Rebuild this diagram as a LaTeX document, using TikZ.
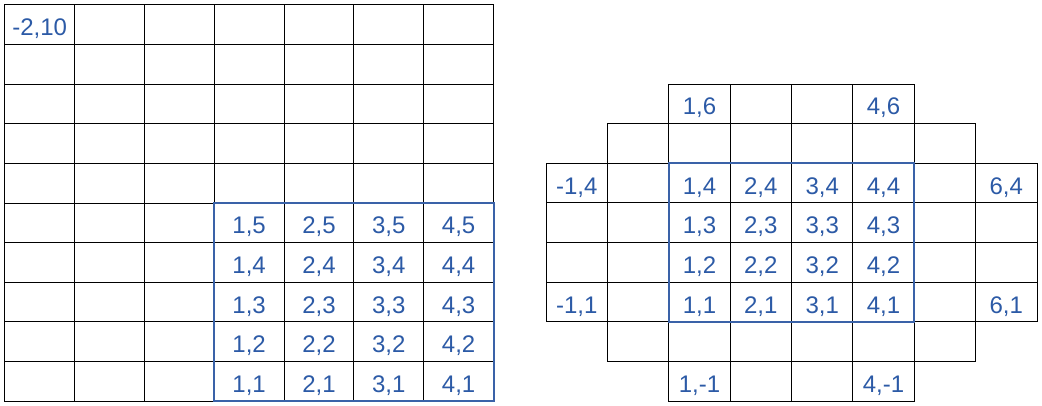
\documentclass[tikz,border=0pt]{standalone}
\usepackage{fontspec}
\setmainfont{Liberation Sans}
\definecolor{lblue}{RGB}{44,90,166}
\definecolor{bblue}{RGB}{58,98,168}
\begin{document}
\begin{tikzpicture}[x=1pt,y=-1pt,
  cell/.style={draw=black,line width=1pt,minimum width=#1,minimum height=39.66pt,inner sep=0pt,outer sep=0pt},
  lab/.style={text=lblue,font=\fontsize{24}{28}\selectfont,inner sep=0pt,text height=22pt,text depth=0pt,anchor=center},
  bluebox/.style={draw=bblue,line width=2pt}]
\useasboundingbox (0,0) rectangle (1042,405);
% left grid
\foreach \i in {0,...,6}{
  \foreach \j in {0,...,9}{
    \node[cell=69.83pt] (L-\i-\j) at ({4.7+69.83*(\i+0.5)},{4.7+39.66*(\j+0.5)}) {};
  }
}
\draw[bluebox] (L-3-5.north west) rectangle (L-6-9.south east);
\node[lab] (tL-0-0) at (L-0-0.center) {-2,10};
\foreach \i in {3,...,6}{
  \foreach \j in {5,...,9}{
    \pgfmathtruncatemacro\a{\i-2}
    \pgfmathtruncatemacro\b{10-\j}
    \node[lab] (tL-\i-\j) at (L-\i-\j.center) {\a,\b};
  }
}
% right grid
\foreach \j/\lo/\hi in {0/2/5,1/1/6,2/0/7,3/0/7,4/0/7,5/0/7,6/1/6,7/2/5}{
  \foreach \i in {\lo,...,\hi}{
    \node[cell=61.375pt] (R-\i-\j) at ({546+61.375*(\i+0.5)},{84+39.66*(\j+0.5)}) {};
  }
}
\draw[bluebox] (R-2-2.north west) rectangle (R-5-5.south east);
\foreach \i/\j/\t in {2/0/{1,6},5/0/{4,6},0/2/{-1,4},7/2/{6,4},0/5/{-1,1},7/5/{6,1},2/7/{1,-1},5/7/{4,-1}}{
  \node[lab] (tR-\i-\j) at (R-\i-\j.center) {\t};
}
\foreach \i in {2,...,5}{
  \foreach \j in {2,...,5}{
    \pgfmathtruncatemacro\a{\i-1}
    \pgfmathtruncatemacro\b{6-\j}
    \node[lab] (tR-\i-\j) at (R-\i-\j.center) {\a,\b};
  }
}
\end{tikzpicture}
\end{document}
